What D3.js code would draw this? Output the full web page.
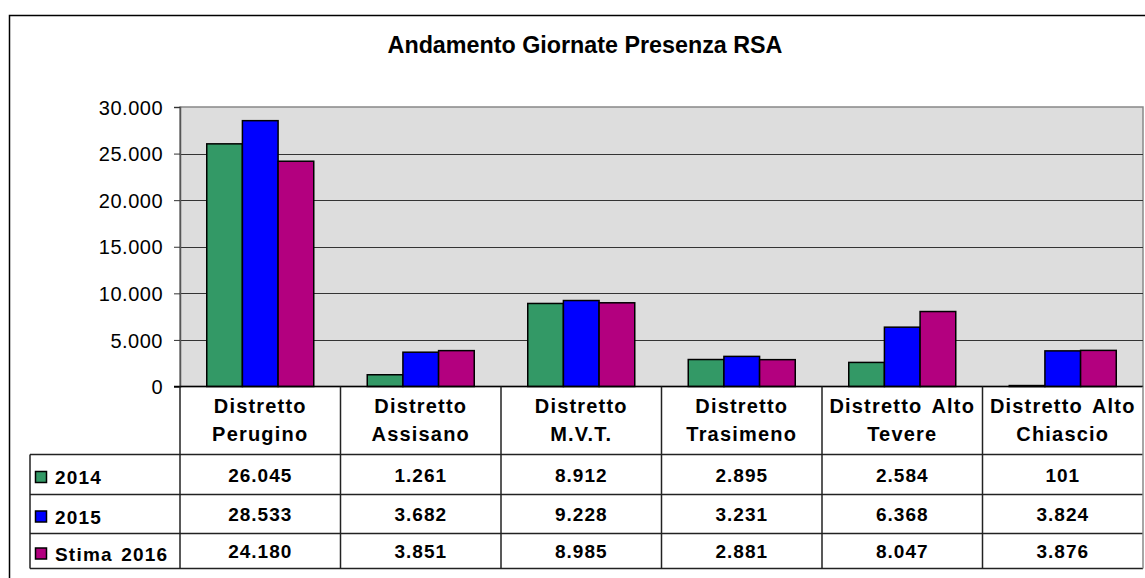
<!DOCTYPE html>
<html>
<head>
<meta charset="utf-8">
<script src="https://cdn.jsdelivr.net/npm/d3@7"></script>
<style>
  body { margin: 0; background: #fff; }
  text { font-family: "Liberation Sans", Arial, sans-serif; fill: #000; }
</style>
</head>
<body>
<script>
//grouped bar chart with data table underneath

(function(){

//chart data
var categories = ["Distretto Perugino", "Distretto Assisano", "Distretto M.V.T.", "Distretto Trasimeno", "Distretto Alto Tevere", "Distretto Alto Chiascio"];
var categoryLines = [["Distretto", "Perugino"], ["Distretto", "Assisano"], ["Distretto", "M.V.T."], ["Distretto", "Trasimeno"], ["Distretto Alto", "Tevere"], ["Distretto Alto", "Chiascio"]];
var seriesNames = ["2014", "2015", "Stima 2016"];
var values2014 = [26045, 1261, 8912, 2895, 2584, 101];
var values2015 = [28533, 3682, 9228, 3231, 6368, 3824];
var values2016 = [24180, 3851, 8985, 2881, 8047, 3876];
var yTicks = [0, 5000, 10000, 15000, 20000, 25000, 30000];
var titleText = "Andamento Giornate Presenza RSA";

var seriesValues = [values2014, values2015, values2016];
var seriesColors = ["#339966", "#0000ff", "#b3007f"];

//italian number format, dot as thousands separator
var itFormat = d3.formatLocale({decimal: ",", thousands: ".", grouping: [3], currency: ["", "\u20ac"]}).format(",d");

window.onload = drawChart();

function drawChart(){
    var width = 1145,
        height = 578;

    var plot = {left: 180, right: 1143, top: 107, bottom: 386.5};
    //table row edges: header, 2014, 2015, 2016
    var rowEdges = [386.5, 454.5, 494.5, 533.5, 568.5];
    var tableLeft = 30;

    var svg = d3.select("body")
        .append("svg")
        .attr("width", width)
        .attr("height", height);

    //chart frame
    svg.append("rect")
        .attr("x", 9.5)
        .attr("y", 15.5)
        .attr("width", 1300)
        .attr("height", 800)
        .attr("fill", "#fff")
        .attr("stroke", "#000")
        .attr("stroke-width", 1.5);

    //title
    svg.append("text")
        .attr("x", 585)
        .attr("y", 53)
        .attr("text-anchor", "middle")
        .style("font-size", "23.3px")
        .style("font-weight", "bold")
        .text(titleText);

    //scales
    var x0 = d3.scaleBand()
        .domain(categories)
        .range([plot.left, plot.right]);

    var bw = x0.bandwidth(),
        gap = bw * 0.75 / 4.5; //gap width 150%

    var x1 = d3.scaleBand()
        .domain(seriesNames)
        .range([gap, bw - gap]);

    var y = d3.scaleLinear()
        .domain([0, 30000])
        .range([plot.bottom, plot.top]);

    //plot area background
    svg.append("rect")
        .attr("x", plot.left)
        .attr("y", plot.top)
        .attr("width", plot.right - plot.left)
        .attr("height", plot.bottom - plot.top)
        .attr("fill", "#dddddd")
        .attr("stroke", "#888")
        .attr("stroke-width", 1.5);

    //gridlines
    svg.selectAll(".grid")
        .data(yTicks.slice(1, -1))
        .enter()
        .append("line")
        .attr("class", "grid")
        .attr("x1", plot.left)
        .attr("x2", plot.right)
        .attr("y1", function(d){ return Math.round(y(d)) + 0.5; })
        .attr("y2", function(d){ return Math.round(y(d)) + 0.5; })
        .attr("stroke", "#333")
        .attr("stroke-width", 1);

    //y axis
    var yAxis = d3.axisLeft(y)
        .tickValues(yTicks)
        .tickSize(6)
        .tickPadding(11)
        .tickFormat(itFormat);

    var yAxisG = svg.append("g")
        .attr("transform", "translate(" + plot.left + ",0)")
        .call(yAxis);

    yAxisG.select(".domain").attr("stroke", "#555").attr("stroke-width", 1.5);
    yAxisG.selectAll(".tick line").attr("stroke", "#333");
    yAxisG.selectAll(".tick text")
        .attr("dy", "0.36em")
        .style("font-family", "'Liberation Sans', Arial, sans-serif")
        .style("font-size", "20px")
        .style("letter-spacing", "0.5px")
        .attr("fill", "#000");

    //bars
    var groups = svg.selectAll(".group")
        .data(categories)
        .enter()
        .append("g")
        .attr("class", "group")
        .attr("transform", function(d){ return "translate(" + x0(d) + ",0)"; });

    groups.selectAll("rect")
        .data(function(d, i){
            return seriesNames.map(function(s, j){
                return {series: s, value: seriesValues[j][i], color: seriesColors[j]};
            });
        })
        .enter()
        .append("rect")
        .attr("x", function(d){ return x1(d.series); })
        .attr("y", function(d){ return y(d.value); })
        .attr("width", x1.bandwidth())
        .attr("height", function(d){ return y(0) - y(d.value); })
        .attr("fill", function(d){ return d.color; })
        .attr("stroke", "#000")
        .attr("stroke-width", 1.5);

    //zero line
    svg.append("line")
        .attr("x1", plot.left - 6)
        .attr("x2", plot.right)
        .attr("y1", plot.bottom)
        .attr("y2", plot.bottom)
        .attr("stroke", "#000")
        .attr("stroke-width", 1.5);

    drawTable(svg, x0, plot, rowEdges, tableLeft);
};

function drawTable(svg, x0, plot, rowEdges, tableLeft){
    var bw = x0.bandwidth();

    //horizontal rules
    svg.selectAll(".hrule")
        .data(rowEdges.slice(1))
        .enter()
        .append("line")
        .attr("class", "hrule")
        .attr("x1", tableLeft)
        .attr("x2", plot.right)
        .attr("y1", function(d){ return d; })
        .attr("y2", function(d){ return d; })
        .attr("stroke", "#222")
        .attr("stroke-width", 1.5);

    //vertical rules at category edges
    var edges = categories.map(function(c){ return x0(c); });
    svg.selectAll(".vrule")
        .data(edges)
        .enter()
        .append("line")
        .attr("class", "vrule")
        .attr("x1", function(d){ return d; })
        .attr("x2", function(d){ return d; })
        .attr("y1", rowEdges[0])
        .attr("y2", rowEdges[4])
        .attr("stroke", "#222")
        .attr("stroke-width", 1.5);

    //right edge
    svg.append("line")
        .attr("x1", plot.right)
        .attr("x2", plot.right)
        .attr("y1", rowEdges[0])
        .attr("y2", rowEdges[4])
        .attr("stroke", "#888")
        .attr("stroke-width", 1.5);

    //left edge of legend column
    svg.append("line")
        .attr("x1", tableLeft)
        .attr("x2", tableLeft)
        .attr("y1", rowEdges[1])
        .attr("y2", rowEdges[4])
        .attr("stroke", "#222")
        .attr("stroke-width", 1.5);

    //category headers (two lines each)
    var headers = svg.selectAll(".header")
        .data(categoryLines)
        .enter()
        .append("text")
        .attr("class", "header")
        .attr("text-anchor", "middle")
        .style("font-size", "20px")
        .style("font-weight", "bold")
        .style("letter-spacing", "1.2px")
        .style("word-spacing", "3px");

    headers.selectAll("tspan")
        .data(function(d, i){
            return d.map(function(line, k){ return {line: line, k: k, cx: x0(categories[i]) + bw / 2}; });
        })
        .enter()
        .append("tspan")
        .attr("x", function(d){ return d.cx; })
        .attr("y", function(d){ return rowEdges[0] + 26 + d.k * 28; })
        .text(function(d){ return d.line; });

    //series rows
    seriesNames.forEach(function(name, j){
        var top = rowEdges[j + 1],
            bottom = rowEdges[j + 2],
            mid = (top + bottom) / 2;

        //legend swatch
        svg.append("rect")
            .attr("x", tableLeft + 5.5)
            .attr("y", mid - 3)
            .attr("width", 11)
            .attr("height", 11)
            .attr("fill", seriesColors[j])
            .attr("stroke", "#000")
            .attr("stroke-width", 1.5);

        //legend label
        svg.append("text")
            .attr("x", tableLeft + 25)
            .attr("y", mid + 9.5)
            .style("font-size", "19px")
            .style("font-weight", "bold")
            .style("letter-spacing", "1.2px")
            .style("word-spacing", "2px")
            .text(name);

        //values
        svg.selectAll(".val" + j)
            .data(seriesValues[j])
            .enter()
            .append("text")
            .attr("class", "val" + j)
            .attr("x", function(d, i){ return x0(categories[i]) + bw / 2; })
            .attr("y", mid + 7)
            .attr("text-anchor", "middle")
            .style("font-size", "19px")
            .style("font-weight", "bold")
            .style("letter-spacing", "1px")
            .text(function(d){ return itFormat(d); });
    });
};

})();
</script>
</body>
</html>
